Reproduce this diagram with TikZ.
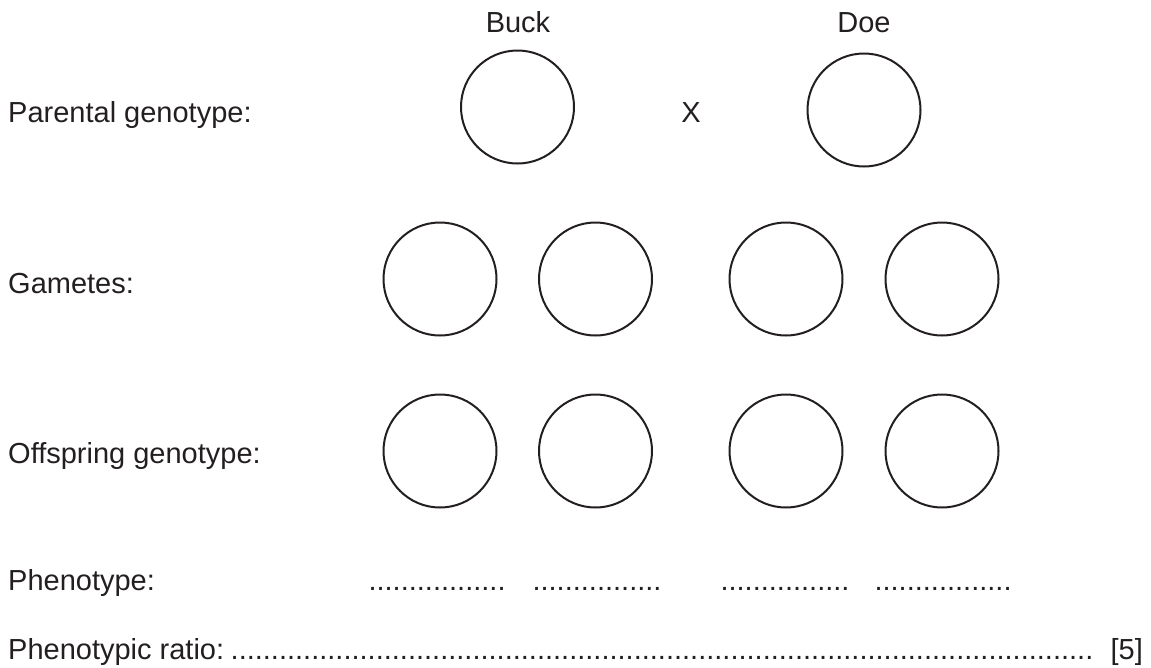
\documentclass[tikz,border=0pt]{standalone}
\usepackage{fontspec}
\setmainfont{Liberation Sans}
\definecolor{ink}{HTML}{231F20}
\newcount\mydotcnt
\newcommand\mydots[1]{\mydotcnt=0 \loop\ifnum\mydotcnt<#1 .\advance\mydotcnt by 1 \repeat}
\begin{document}
\begin{tikzpicture}[x=1pt,y=-1pt,
  txt/.style={inner sep=0pt,text=ink,font=\fontsize{29}{35}\selectfont},
  lbl/.style={txt,anchor=base west},
  ctr/.style={txt,anchor=base},
  allele/.style={circle,draw=ink,line width=2pt,minimum size=113pt,inner sep=0pt}]
\useasboundingbox (0,0) rectangle (1151,667);
% headings
\node[ctr] (buckt) at (518,32) {Buck};
\node[ctr] (doet) at (864,32) {Doe};
% row labels
\node[lbl] (lpar) at (8,122) {Parental genotype:};
\node[lbl] (lgam) at (8,293) {Gametes:};
\node[lbl] (loff) at (8,463) {Offspring genotype:};
\node[lbl] (lphe) at (8,590) {Phenotype:};
\node[lbl] (lrat) at (8,659) {Phenotypic ratio:};
% parents
\node[allele] (buck) at (517.5,107) {};
\node[allele] (doe) at (864,110) {};
\node[ctr] (cross) at (691,122) {X};
% gametes
\node[allele] (g1) at (440,279) {};
\node[allele] (g2) at (595.5,279) {};
\node[allele] (g3) at (786,279) {};
\node[allele] (g4) at (942,279) {};
% offspring
\node[allele] (o1) at (440,451) {};
\node[allele] (o2) at (595.5,451) {};
\node[allele] (o3) at (786,451) {};
\node[allele] (o4) at (942,451) {};
% phenotype dots
\node[ctr] (p1) at (437,590) {\mydots{17}};
\node[ctr] (p2) at (597,590) {\mydots{16}};
\node[ctr] (p3) at (785,590) {\mydots{16}};
\node[ctr] (p4) at (943,590) {\mydots{17}};
% ratio line
\node[txt,anchor=base east] (rdots) at (1093,659) {\mydots{107}};
\node[txt,anchor=base east] (mark) at (1143,659) {[5]};
\end{tikzpicture}
\end{document}
